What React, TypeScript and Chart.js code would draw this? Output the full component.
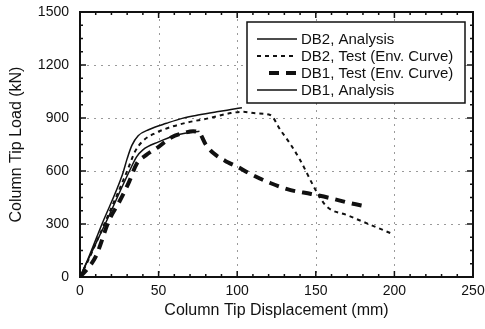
import React, { useEffect, useRef } from "react";
import { Chart, registerables } from "chart.js";

Chart.register(...registerables);

// ---- Data ----
const seriesLabels = [
  "DB2, Analysis",
  "DB2, Test (Env. Curve)",
  "DB1, Test (Env. Curve)",
  "DB1, Analysis",
];

const db2AnalysisX = [0, 5, 14, 27, 30, 33, 37, 44, 55, 65, 76, 87, 96, 103];
const db2AnalysisY = [0, 100, 300, 580, 670, 745, 800, 835, 870, 898, 918, 935, 948, 958];

const db2TestX = [0, 5, 15, 30, 35, 40, 48, 60, 70, 80, 96, 104, 112, 121, 127.5, 134, 140, 151, 157, 170, 180, 199];
const db2TestY = [0, 90, 290, 600, 710, 770, 815, 855, 878, 895, 928, 935, 926, 917, 832, 750, 662, 475, 398, 350, 313, 243];

const db1TestX = [0, 5, 10, 18.6, 25, 31.3, 36, 42, 50, 58, 66, 72, 76, 80, 85, 94, 101, 108, 121, 134, 147, 159, 171, 183];
const db1TestY = [0, 50, 115, 323, 426, 540, 640, 690, 737, 790, 815, 825, 815, 750, 700, 650, 620, 585, 532, 492, 470, 447, 420, 398];

const db1AnalysisX = [0, 5, 16, 32, 36, 40, 50, 60, 70, 76];
const db1AnalysisY = [0, 95, 300, 610, 680, 720, 765, 800, 818, 825];

const xTicks = { min: 0, max: 250, major: 50, minor: 10 };
const yTicks = { min: 0, max: 1500, major: 300, minor: 75 };

const xTitle = "Column Tip Displacement (mm)";
const yTitle = "Column Tip Load (kN)";

const toPoints = (xs: number[], ys: number[]) => xs.map((x, i) => ({ x, y: ys[i] }));

const FONT = "'Liberation Sans', Arial, Helvetica, sans-serif";
const INK = "#111";

const framePlugin = {
  id: "frameTicks",
  beforeDatasetsDraw(chart: any) {
    const { ctx, chartArea: a, scales } = chart;
    const xs = scales.x;
    const ys = scales.y;
    ctx.save();
    // dotted grid at major ticks
    ctx.strokeStyle = "#9a9a9a";
    ctx.lineWidth = 1;
    ctx.setLineDash([2, 5]);
    for (let v = xTicks.min + xTicks.major; v < xTicks.max; v += xTicks.major) {
      const p = Math.round(xs.getPixelForValue(v)) + 0.5;
      ctx.beginPath();
      ctx.moveTo(p, a.top);
      ctx.lineTo(p, a.bottom);
      ctx.stroke();
    }
    for (let v = yTicks.min + yTicks.major; v < yTicks.max; v += yTicks.major) {
      const p = Math.round(ys.getPixelForValue(v)) + 0.5;
      ctx.beginPath();
      ctx.moveTo(a.left, p);
      ctx.lineTo(a.right, p);
      ctx.stroke();
    }
    ctx.setLineDash([]);
    // ticks inward on all four sides
    ctx.strokeStyle = INK;
    ctx.lineWidth = 1.5;
    for (let v = xTicks.min; v <= xTicks.max; v += xTicks.minor) {
      const p = xs.getPixelForValue(v);
      const len = v % xTicks.major === 0 ? 6 : 3;
      ctx.beginPath();
      ctx.moveTo(p, a.bottom);
      ctx.lineTo(p, a.bottom - len);
      ctx.moveTo(p, a.top);
      ctx.lineTo(p, a.top + len);
      ctx.stroke();
    }
    for (let v = yTicks.min; v <= yTicks.max; v += yTicks.minor) {
      const p = ys.getPixelForValue(v);
      const len = v % yTicks.major === 0 ? 6 : 3;
      ctx.beginPath();
      ctx.moveTo(a.left, p);
      ctx.lineTo(a.left + len, p);
      ctx.moveTo(a.right, p);
      ctx.lineTo(a.right - len, p);
      ctx.stroke();
    }
    // frame
    ctx.lineWidth = 2;
    ctx.strokeRect(a.left, a.top, a.right - a.left, a.bottom - a.top);
    ctx.restore();
  },
  afterDraw(chart: any) {
    const { ctx, chartArea: a } = chart;
    const boxL = a.left + 167;
    const boxT = a.top + 10;
    const boxW = 218;
    const boxH = 81;
    ctx.save();
    ctx.fillStyle = "#fff";
    ctx.fillRect(boxL, boxT, boxW, boxH);
    ctx.strokeStyle = INK;
    ctx.lineWidth = 1.5;
    ctx.strokeRect(boxL, boxT, boxW, boxH);
    ctx.font = `15px ${FONT}`;
    ctx.textBaseline = "middle";
    ctx.textAlign = "left";
    chart.data.datasets.forEach((ds: any, i: number) => {
      const y = boxT + 17 + i * 17;
      ctx.strokeStyle = ds.borderColor;
      ctx.lineWidth = ds.borderWidth;
      ctx.setLineDash(ds.borderDash || []);
      ctx.beginPath();
      const x0 = boxL + 10;
      const x1 = boxL + 50;
      if (ds.borderDash && ds.borderDash[0] > 5) {
        ctx.moveTo(x0 + 12, y);
      } else {
        ctx.moveTo(x0, y);
      }
      ctx.lineTo(x1, y);
      ctx.stroke();
      ctx.setLineDash([]);
      ctx.fillStyle = INK;
      ctx.fillText(ds.label, boxL + 54, y + 1);
    });
    ctx.restore();
  },
};

export default function App() {
  const ref = useRef<HTMLCanvasElement | null>(null);
  useEffect(() => {
    if (!ref.current) return;
    const common = {
      borderColor: INK,
      pointRadius: 0,
      cubicInterpolationMode: "monotone",
    };
    const chart = new Chart(ref.current, {
      type: "line",
      data: {
        datasets: [
          {
            ...common,
            label: seriesLabels[0],
            data: toPoints(db2AnalysisX, db2AnalysisY),
            borderWidth: 1.5,
            borderDash: [],
          },
          {
            ...common,
            label: seriesLabels[1],
            data: toPoints(db2TestX, db2TestY),
            borderWidth: 2,
            borderDash: [4, 4],
          },
          {
            ...common,
            label: seriesLabels[2],
            data: toPoints(db1TestX, db1TestY),
            borderWidth: 4,
            borderDash: [10, 7],
          },
          {
            ...common,
            label: seriesLabels[3],
            data: toPoints(db1AnalysisX, db1AnalysisY),
            borderWidth: 1.5,
            borderDash: [],
          },
        ] as any,
      },
      options: {
        animation: false,
        responsive: false,
        maintainAspectRatio: false,
        layout: { padding: { left: 0, top: 12, right: 12, bottom: 0 } },
        plugins: { legend: { display: false }, tooltip: { enabled: false } },
        scales: {
          x: {
            type: "linear",
            min: xTicks.min,
            max: xTicks.max,
            grid: { display: false, drawTicks: false },
            border: { display: false },
            ticks: {
              stepSize: xTicks.major,
              padding: 6,
              color: INK,
              font: { family: FONT, size: 14 },
              callback: (v: any) => String(v),
            },
            title: {
              display: true,
              text: xTitle,
              color: INK,
              font: { family: FONT, size: 16 },
              padding: { top: 0, bottom: 9 },
            },
            afterFit: (s: any) => {
              s.height = 52;
              s.paddingLeft = 0;
              s.paddingRight = 0;
            },
          },
          y: {
            type: "linear",
            min: yTicks.min,
            max: yTicks.max,
            grid: { display: false, drawTicks: false },
            border: { display: false },
            ticks: {
              stepSize: yTicks.major,
              padding: 11,
              color: INK,
              font: { family: FONT, size: 14 },
              callback: (v: any) => String(v),
            },
            title: {
              display: true,
              text: yTitle,
              color: INK,
              font: { family: FONT, size: 16 },
              padding: { top: 7, bottom: 0 },
            },
            afterFit: (s: any) => {
              s.width = 80;
              s.paddingTop = 0;
              s.paddingBottom = 0;
            },
          },
        },
      },
      plugins: [framePlugin],
    });
    return () => chart.destroy();
  }, []);
  return (
    <div style={{ position: "absolute", left: 0, top: 0, width: 485, height: 329, background: "#fff" }}>
      <canvas ref={ref} width={485} height={329} style={{ display: "block" }} />
    </div>
  );
}
